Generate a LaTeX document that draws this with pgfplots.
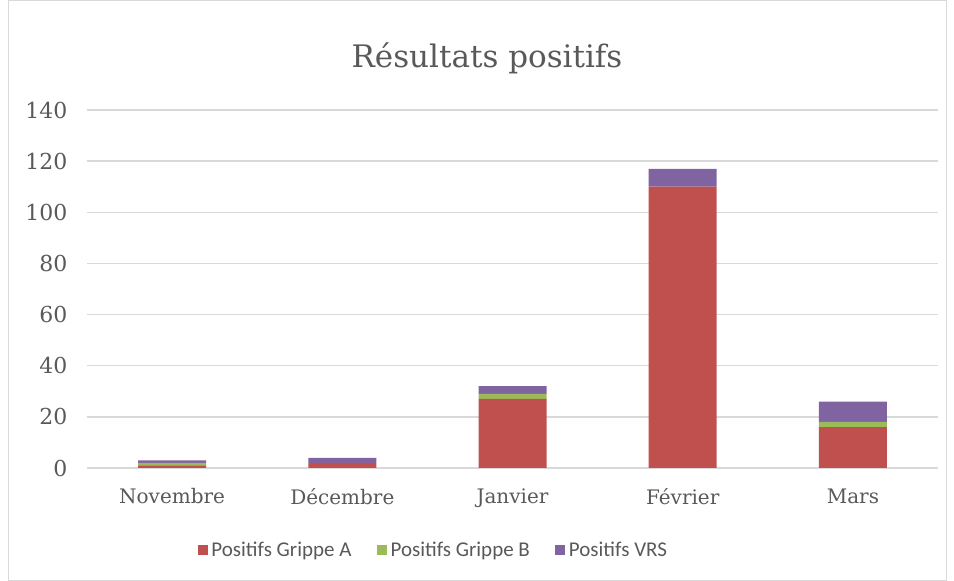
\documentclass[border=0pt]{standalone}
\usepackage{pgfplots}
\pgfplotsset{compat=1.18}
\usepackage{fontspec}
\setmainfont{DejaVu Serif}
\newfontfamily\legfont{Carlito}
\definecolor{ga}{HTML}{C0504D}
\definecolor{gb}{HTML}{9BBB59}
\definecolor{vrs}{HTML}{8064A2}
\definecolor{gridc}{HTML}{D9D9D9}
\definecolor{textc}{HTML}{595959}
\begin{document}
\begin{tikzpicture}
\path[use as bounding box] (0,0) rectangle (954bp,581bp);
\draw[gridc, line width=1bp] (8bp,0.5bp) rectangle (946bp,580bp);
\node[font=\fontsize{31bp}{36bp}\selectfont, text=textc] at (487bp,523bp) {Résultats positifs};
\begin{axis}[
  at={(87bp,113bp)}, anchor=south west,
  scale only axis, width=851bp, height=358bp,
  ybar stacked, bar width=68bp,
  xmin=-0.5, xmax=4.5, ymin=0, ymax=140,
  ytick={0,20,...,140},
  xtick={0,...,4},
  xticklabels={Novembre,Décembre,Janvier,Février,Mars},
  ymajorgrids, grid style={gridc, line width=1.3bp},
  axis line style={draw=none},
  tick style={draw=none}, major tick length=0pt,
  /pgf/number format/assume math mode=true,
  xticklabel style={font=\fontsize{20bp}{24bp}\selectfont, text=textc, yshift=-17bp},
  yticklabel style={font=\fontsize{22bp}{26bp}\selectfont, text=textc, xshift=-16bp},
  legend columns=3,
  legend style={at={(0.408,-0.229)}, anchor=center, draw=none, fill=none,
    nodes={font=\legfont\fontsize{21bp}{25bp}\selectfont, text=textc, inner xsep=3.5bp},
    /tikz/every even column/.append style={column sep=22bp}},
  legend image code/.code={\fill[#1] (0bp,-5bp) rectangle (10bp,5bp);},
]
\addplot[fill=ga, draw=none] coordinates {(0,1) (1,2) (2,27) (3,110) (4,16)};
\addplot[fill=gb, draw=none] coordinates {(0,1) (1,0) (2,2) (3,0) (4,2)};
\addplot[fill=vrs, draw=none] coordinates {(0,1) (1,2) (2,3) (3,7) (4,8)};
\legend{Positifs Grippe A, Positifs Grippe B, Positifs VRS}
\end{axis}
\end{tikzpicture}
\end{document}
